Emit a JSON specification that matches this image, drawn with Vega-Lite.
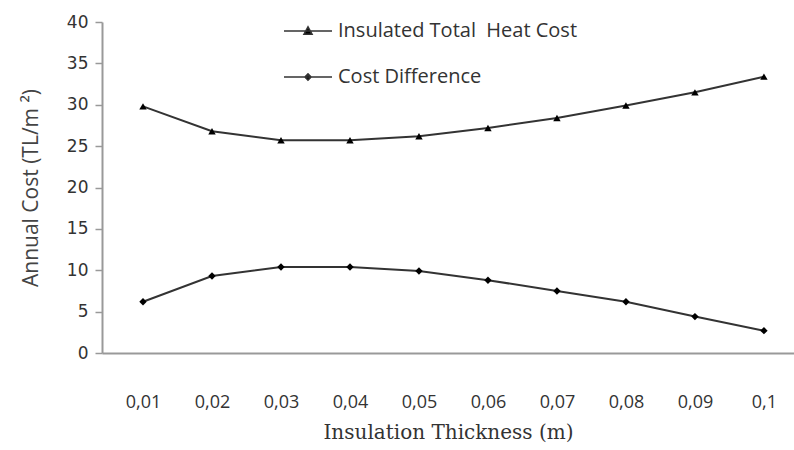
{
  "$schema": "https://vega.github.io/schema/vega-lite/v6.json",
  "autosize": "none",
  "width": 692,
  "height": 331,
  "padding": {"left": 102, "top": 22, "right": 0, "bottom": 97},
  "background": "white",
  "config": {"view": {"stroke": null}},
  "data": {"values": [
    {"t": "0,01", "s": "Insulated Total  Heat Cost", "v": 29.8},
    {"t": "0,02", "s": "Insulated Total  Heat Cost", "v": 26.8},
    {"t": "0,03", "s": "Insulated Total  Heat Cost", "v": 25.7},
    {"t": "0,04", "s": "Insulated Total  Heat Cost", "v": 25.7},
    {"t": "0,05", "s": "Insulated Total  Heat Cost", "v": 26.2},
    {"t": "0,06", "s": "Insulated Total  Heat Cost", "v": 27.2},
    {"t": "0,07", "s": "Insulated Total  Heat Cost", "v": 28.4},
    {"t": "0,08", "s": "Insulated Total  Heat Cost", "v": 29.9},
    {"t": "0,09", "s": "Insulated Total  Heat Cost", "v": 31.5},
    {"t": "0,1", "s": "Insulated Total  Heat Cost", "v": 33.4},
    {"t": "0,01", "s": "Cost Difference", "v": 6.2},
    {"t": "0,02", "s": "Cost Difference", "v": 9.3},
    {"t": "0,03", "s": "Cost Difference", "v": 10.4},
    {"t": "0,04", "s": "Cost Difference", "v": 10.4},
    {"t": "0,05", "s": "Cost Difference", "v": 9.9},
    {"t": "0,06", "s": "Cost Difference", "v": 8.8},
    {"t": "0,07", "s": "Cost Difference", "v": 7.5},
    {"t": "0,08", "s": "Cost Difference", "v": 6.2},
    {"t": "0,09", "s": "Cost Difference", "v": 4.4},
    {"t": "0,1", "s": "Cost Difference", "v": 2.7}
  ]},
  "encoding": {
    "x": {
      "field": "t", "type": "ordinal", "sort": null,
      "scale": {"type": "point", "padding": 0.515, "align": 0.577},
      "axis": {
        "title": "Insulation Thickness (m)",
        "titleFont": "DejaVu Serif", "titleFontSize": 20, "titleFontWeight": "normal", "titleColor": "#333",
        "titlePadding": 11,
        "labelFont": "Open Sans", "labelFontSize": 18, "labelColor": "#333", "labelAngle": 0,
        "labelPadding": 40,
        "ticks": false, "grid": false,
        "domainColor": "#999", "domainWidth": 2
      }
    },
    "y": {
      "field": "v", "type": "quantitative",
      "scale": {"domain": [0, 40], "nice": false},
      "axis": {
        "title": "Annual Cost (TL/m ²)",
        "titleFont": "Open Sans", "titleFontSize": 21, "titleFontWeight": "normal", "titleColor": "#444",
        "titlePadding": 25,
        "values": [0, 5, 10, 15, 20, 25, 30, 35, 40],
        "labelFont": "DejaVu Sans", "labelFontSize": 17, "labelColor": "#333",
        "labelPadding": 7, "tickSize": 7, "tickColor": "#999", "tickWidth": 1.5,
        "grid": false, "domainColor": "#999", "domainWidth": 2
      }
    }
  },
  "layer": [
    {
      "mark": {"type": "line", "strokeWidth": 2},
      "encoding": {
        "color": {
          "field": "s", "type": "nominal",
          "sort": ["Insulated Total  Heat Cost", "Cost Difference"],
          "scale": {"range": ["#333333", "#333333"]},
          "legend": {
            "title": null, "orient": "none", "legendX": 181, "legendY": -16,
            "symbolSize": 2304, "rowPadding": 11, "labelOffset": 5, "labelLimit": 400,
            "labelFont": "Open Sans", "labelFontSize": 20, "labelColor": "#333",
            "labelExpr": "replace(datum.label, '  ', ' \u00a0')",
            "symbolStrokeWidth": 1.5,
            "encode": {
              "symbols": {
                "update": {
                  "shape": [
                    {"test": "datum.value === 'Cost Difference'", "value": "M-1,0L1,0M-0.13,0L0,-0.13L0.13,0L0,0.13Z"},
                    {"value": "M-1,0L1,0M-0.17,0.14L0,-0.17L0.17,0.14Z"}
                  ],
                  "fill": {"value": "#000"},
                  "stroke": {"value": "#222"},
                  "strokeWidth": {"value": 1.5}
                }
              }
            }
          }
        }
      }
    },
    {
      "mark": {"type": "point", "filled": true, "color": "#000", "opacity": 1},
      "encoding": {
        "shape": {
          "field": "s", "type": "nominal",
          "scale": {"domain": ["Insulated Total  Heat Cost", "Cost Difference"], "range": ["triangle-up", "diamond"]},
          "legend": null
        },
        "size": {"value": 55}
      }
    }
  ]
}
